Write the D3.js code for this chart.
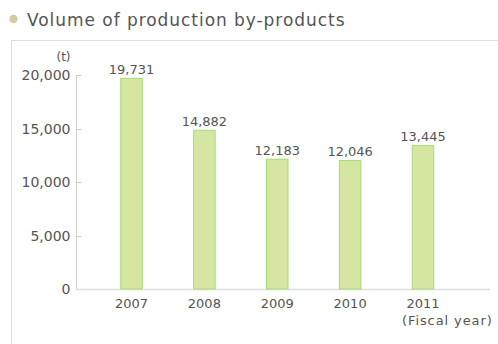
<!DOCTYPE html>
<html><head><meta charset="utf-8">
<script src="https://cdn.jsdelivr.net/npm/d3@7"></script>
<style>
html,body{margin:0;padding:0;background:#fff;}
svg{display:block;}
text{font-family:"DejaVu Sans",sans-serif;fill:#555;}
</style></head>
<body>
<svg id="c" width="498" height="344"></svg>
<script>
const categories = ["2007","2008","2009","2010","2011"];
const values = [19731, 14882, 12183, 12046, 13445];
const yTicks = [0, 5000, 10000, 15000, 20000];
const title = "Volume of production by-products";
const unitLabel = "(t)";
const xUnitLabel = "(Fiscal year)";

const svg = d3.select("#c");
const fmt = d3.format(",");

// title
svg.append("circle").attr("cx",13.5).attr("cy",19).attr("r",4.2).attr("fill","#d3caa6");
svg.append("text").attr("x",27).attr("y",25.5).attr("font-size",17).attr("letter-spacing",0.95).attr("fill","#555").text(title);

// frame
svg.append("path").attr("d","M11.5,344 V40.5 H498").attr("fill","none").attr("stroke","#ddd").attr("stroke-width",1);

const y = d3.scaleLinear().domain([0,20000]).range([289,75]);
const x = d3.scalePoint().domain(categories).range([131.5,423]);
const bw = 22.5;

// y axis
const yAxis = svg.append("g").attr("transform","translate(76.5,0)");
yAxis.append("line").attr("x1",0).attr("x2",0).attr("y1",y(20000)).attr("y2",y(0)).attr("stroke","#ccc");
yAxis.selectAll(".t").data(yTicks).join("line")
  .attr("x1",0).attr("x2",5).attr("y1",d=>Math.round(y(d))+0.5).attr("y2",d=>Math.round(y(d))+0.5).attr("stroke","#ccc");
yAxis.selectAll(".l").data(yTicks).join("text")
  .attr("x",-6).attr("y",d=>y(d)).attr("dy","0.36em").attr("text-anchor","end").attr("font-size",14).text(d=>fmt(d));
svg.append("text").attr("x",63.5).attr("y",61).attr("text-anchor","middle").attr("font-size",12).text(unitLabel);

// x axis
svg.append("line").attr("x1",76).attr("x2",490).attr("y1",289.5).attr("y2",289.5).attr("stroke","#ddd").attr("stroke-width",1.5);

// bars
svg.selectAll(".bar").data(values).join("rect")
  .attr("x",(d,i)=>x(categories[i])-bw/2+0.5).attr("width",bw-1)
  .attr("y",d=>y(d)+0.5).attr("height",d=>y(0)-y(d)-0.5)
  .attr("fill","#d4e6a1").attr("stroke","#a6dc74").attr("stroke-width",1);

// value labels
svg.selectAll(".val").data(values).join("text")
  .attr("x",(d,i)=>x(categories[i])).attr("y",d=>y(d)-4).attr("text-anchor","middle").attr("font-size",13).text(d=>fmt(d));

// x labels
svg.selectAll(".xl").data(categories).join("text")
  .attr("x",d=>x(d)).attr("y",308).attr("text-anchor","middle").attr("font-size",13).text(d=>d);
svg.append("text").attr("x",402).attr("y",325).attr("font-size",13).attr("letter-spacing",0.9).text(xUnitLabel);
</script>
</body></html>
